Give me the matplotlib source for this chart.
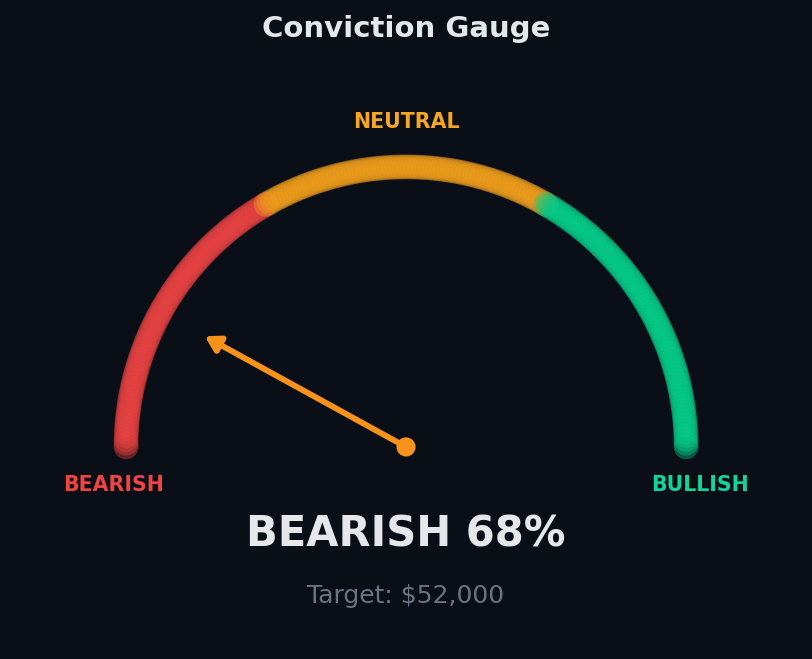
import numpy as np
import matplotlib
matplotlib.use("Agg")
import matplotlib.pyplot as plt
from matplotlib.patches import FancyArrowPatch

# ---- data ----
segment_labels = ["BEARISH", "NEUTRAL", "BULLISH"]
segment_bounds = [(180, 120), (120, 60), (60, 0)]   # degrees
segment_colors = ["#ec4343", "#f2a01c", "#05cf8a"]
label_colors = ["#ef4444", "#f5a623", "#12d49a"]
conviction = 68          # percent
stance = "BEARISH"
target_text = "Target: $52,000"
title = "Conviction Gauge"

BG = "#0a0e16"
NEEDLE = "#f7931a"

fig = plt.figure(figsize=(8.121, 6.591), dpi=100, facecolor=BG)
ax = fig.add_axes([0, 0, 1, 1])
ax.set_facecolor(BG)
ax.set_xlim(-1.45, 1.45)
ax.set_ylim(-0.757, 1.596)
ax.set_aspect("equal")
ax.axis("off")

# arc made of overlapping translucent dots
for (a0, a1), col in zip(segment_bounds, segment_colors):
    th = np.radians(np.linspace(a0, a1, 80))
    ax.scatter(np.cos(th), np.sin(th), s=320, color=col, alpha=0.38,
               edgecolors="none", zorder=2)

# needle
ang = np.radians(90 + conviction / 100 * 90)
L = 0.82
arrow = FancyArrowPatch((0, 0), (L * np.cos(ang), L * np.sin(ang)),
                        arrowstyle="-|>,head_length=0.5,head_width=0.3",
                        mutation_scale=17, color=NEEDLE,
                        linewidth=4.2, shrinkA=0, shrinkB=0, zorder=4)
ax.add_patch(arrow)
ax.scatter([0], [0], s=190, color=NEEDLE, zorder=5, edgecolors="none")

# labels
ax.text(-1.045, -0.135, segment_labels[0], color=label_colors[0], fontsize=14.8,
        fontweight="bold", ha="center", va="center")
ax.text(0, 1.161, segment_labels[1], color=label_colors[1], fontsize=14.8,
        fontweight="bold", ha="center", va="center")
ax.text(1.05, -0.135, segment_labels[2], color=label_colors[2], fontsize=14.8,
        fontweight="bold", ha="center", va="center")

ax.text(0, 1.492, title, color="#e5e7eb", fontsize=21, fontweight="bold",
        ha="center", va="center")
ax.text(0, -0.313, f"{stance} {conviction}%", color="#e5e7eb", fontsize=30,
        fontweight="bold", ha="center", va="center")
ax.text(0, -0.533, target_text, color="#6b7280", fontsize=18,
        ha="center", va="center")

fig.savefig("out.png", dpi=100, facecolor=BG)
